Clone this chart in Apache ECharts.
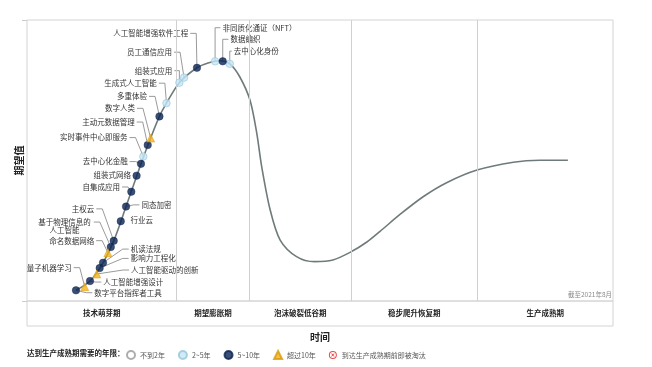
<!DOCTYPE html>
<html><head><meta charset="utf-8">
<script src="https://cdn.jsdelivr.net/npm/echarts@6/dist/echarts.min.js"></script>
<style>html,body{margin:0;padding:0;background:#fff}#c{width:652px;height:367px}</style>
</head><body><div id="c"></div>
<script>
// ---------- data ----------
const techNames = ['数字平台指挥者工具','量子机器学习','人工智能增强设计','人工智能驱动的创新','影响力工程化','机读法规','命名数据网络','基于物理信息的\n人工智能','主权云','行业云','同态加密','自集成应用','组装式网络','去中心化金融','实时事件中心即服务','主动元数据管理','数字人类','多重体验','生成式人工智能','组装式应用','员工通信应用','人工智能增强软件工程','非同质化通证（NFT）','数据编织','去中心化身份'];
const techX = [8.36, 9.85, 10.75, 11.9, 12.4, 12.97, 13.8, 14.3, 14.8, 16.0, 16.9, 17.8, 18.7, 19.45, 19.85, 20.6, 21.1, 22.6, 23.8, 26.0, 26.8, 29.0, 32.1, 33.4, 34.6];
const techY = [3.8, 5.1, 7.1, 9.6, 11.7, 13.6, 17.2, 19.2, 21.4, 28.4, 33.6, 38.9, 44.6, 48.8, 51.4, 55.5, 58.0, 65.7, 70.4, 77.7, 79.5, 83.0, 85.3, 85.3, 84.4];
const techYears = ['5~10年','超过10年','5~10年','超过10年','5~10年','5~10年','超过10年','5~10年','5~10年','5~10年','5~10年','5~10年','5~10年','5~10年','2~5年','5~10年','超过10年','5~10年','2~5年','2~5年','2~5年','5~10年','2~5年','5~10年','2~5年'];
const curveX = [8.36, 10.75, 12.97, 14.8, 16.9, 19.45, 21.1, 22.6, 23.8, 26.0, 29.0, 30.9, 32.9, 34.6, 36.3, 38.05, 39.2, 40.05, 41.5, 43.2, 46.0, 49.1, 52.2, 55.3, 58.0, 60.2, 63.65, 67.6, 71.6, 76.8, 83.0, 87.5, 92.3];
const curveY = [3.8, 7.1, 13.6, 21.4, 33.6, 48.8, 58.0, 65.7, 70.4, 77.7, 83.0, 84.7, 85.5, 84.4, 79.8, 71.5, 59.8, 47.8, 32.4, 21.7, 15.8, 14.0, 14.6, 17.5, 21.0, 24.7, 30.8, 37.1, 42.1, 46.6, 49.4, 50.1, 50.1];
const phaseNames = ['技术萌芽期','期望膨胀期','泡沫破裂低谷期','稳步爬升恢复期','生产成熟期'];
const phaseBounds = [0, 25.55, 37.94, 55.29, 76.84, 100];
const yearClasses = ['不到2年','2~5年','5~10年','超过10年','到达生产成熟期前即被淘汰'];

// ---------- layout (label offsets in px from each mark: dx, dy, side, leader, [text shift]) ----------
const labelOffsets = [
  [18.3, 2.4, 'left', 1], [-13, -19, 'right', 1], [13.3, 1, 'left', 1], [34.3, -4, 'left', 1],
  [31, -9.7, 'left', 1], [27.7, -13.7, 'left', 1], [-13.7, -12, 'right', 1], [-19, -25, 'right', 1, [-27.2, 4]],
  [-19.4, -32, 'right', 1], [9.7, -0.6, 'left', 0], [15.4, -1.7, 'left', 1], [-11.3, -4.7, 'right', 1],
  [-5.7, -0.7, 'right', 0], [-13.3, -2.3, 'right', 1], [-15.8, -19, 'right', 1], [-13, -23, 'right', 1],
  [-15.7, -29.7, 'right', 1], [-12.4, -20, 'right', 1], [-9.6, -20, 'right', 1], [-7, -12, 'right', 1],
  [-12, -25.4, 'right', 1], [-8.7, -34.4, 'right', 1], [7.3, -33.6, 'left', 1], [7.7, -22, 'left', 1],
  [4, -12.7, 'left', 1]
];
const FONT = '"Noto Sans CJK SC", "Noto Sans", sans-serif';
const classStyles = {
  '不到2年': {symbol: 'circle', size: 7, itemStyle: {color: '#ffffff', borderColor: '#999', borderWidth: 1}},
  '2~5年': {symbol: 'circle', size: 7.5, itemStyle: {color: '#c6e6f5', borderColor: '#95c6dc', borderWidth: 0.8}},
  '5~10年': {symbol: 'circle', size: 7.5, itemStyle: {color: '#0a2352', borderColor: '#0a2352', borderWidth: 0.5}},
  '超过10年': {symbol: 'triangle', size: 8, itemStyle: {color: '#f4b117', borderColor: '#d99a0c', borderWidth: 0.6}},
  '到达生产成熟期前即被淘汰': {symbol: 'path://M12,1A11,11,0,1,1,11.99,1ZM12,3.8A8.2,8.2,0,1,0,12.01,3.8ZM7.2,8.6L8.6,7.2L16.8,15.4L15.4,16.8ZM15.4,7.2L16.8,8.6L8.6,16.8L7.2,15.4Z', size: 8, itemStyle: {color: '#e02020'}}
};

const chart = echarts.init(document.getElementById('c'), null, {renderer: 'canvas'});

const scatterSeries = yearClasses.map(cls => ({
  name: cls, type: 'scatter', xAxisIndex: 0, yAxisIndex: 0,
  symbol: classStyles[cls].symbol, symbolSize: classStyles[cls].size,
  itemStyle: classStyles[cls].itemStyle, z: 5, silent: true,
  data: techX.map((x, i) => techYears[i] === cls ? [x, techY[i]] : null).filter(d => d)
}));

const labelSeries = {
  type: 'custom', xAxisIndex: 0, yAxisIndex: 0, z: 4, silent: true,
  data: techX.map((x, i) => [x, techY[i], i]),
  encode: {x: 0, y: 1},
  renderItem: function (params, api) {
    const i = api.value(2);
    const p = api.coord([api.value(0), api.value(1)]);
    const o = labelOffsets[i];
    const ax = p[0] + o[0], ay = p[1] + o[1];
    let tx = ax, ty = ay, align = o[2];
    if (o[4]) { tx = ax + o[4][0]; ty = ay + o[4][1]; align = 'center'; }
    const children = [{
      type: 'text',
      style: {text: techNames[i], x: tx, y: ty, align: align, verticalAlign: 'middle',
        fontSize: 7.5, fontFamily: FONT, fill: '#333', lineHeight: 8.5}
    }];
    if (o[3]) {
      const sx = o[2] === 'left' ? ax - 2 : ax + 2;
      const dir = p[0] >= sx ? 1 : -1;
      const hx = sx + dir * Math.min(6, Math.abs(p[0] - sx));
      children.push({
        type: 'polyline',
        shape: {points: [[sx, ay], [hx, ay], [p[0], p[1]]]},
        style: {stroke: '#808080', lineWidth: 0.8, fill: null}
      });
    }
    return {type: 'group', children: children};
  }
};

const curveSeries = {
  type: 'line', xAxisIndex: 0, yAxisIndex: 0, z: 3, silent: true,
  smooth: 0.3, showSymbol: false, symbol: 'none',
  lineStyle: {color: '#6f7b7b', width: 1.6},
  data: curveX.map((x, i) => [x, curveY[i]]),
  markLine: {
    silent: true, symbol: ['none', 'none'], label: {show: false},
    lineStyle: {color: '#d0d0d0', width: 1, type: 'solid'},
    data: phaseBounds.slice(1, -1).map(v => ({xAxis: v}))
  }
};

const bandCenters = phaseNames.map((n, k) => (phaseBounds[k] + phaseBounds[k + 1]) / 2);

chart.setOption({
  animation: false,
  textStyle: {fontFamily: FONT},
  title: [
    {text: '达到生产成熟期需要的年限：', left: 27, top: 349.5, padding: 0,
      textStyle: {fontSize: 7.5, fontWeight: 'bold', color: '#222', fontFamily: FONT}},
    {text: '截至2021年8月', right: 40, top: 291, padding: 0,
      textStyle: {fontSize: 6.5, fontWeight: 'normal', color: '#8a8a8a', fontFamily: FONT}}
  ],
  legend: {
    left: 126, top: 350, padding: 0, itemWidth: 8, itemHeight: 8, itemGap: 13,
    textStyle: {fontSize: 7, color: '#555', fontFamily: FONT},
    data: yearClasses.map(n => ({name: n, icon: classStyles[n].symbol}))
  },
  grid: [
    {left: 27, right: 39, top: 20, bottom: 66, show: true, borderColor: '#d4d4d4', borderWidth: 1},
    {left: 27, right: 39, top: 301, height: 25, show: true, borderColor: '#d4d4d4', borderWidth: 1}
  ],
  xAxis: [
    {type: 'value', gridIndex: 0, min: 0, max: 100, show: false},
    {type: 'value', gridIndex: 1, min: 0, max: 100,
      axisLine: {show: false}, axisTick: {show: false}, splitLine: {show: false},
      axisLabel: {customValues: bandCenters, inside: true, margin: 12.5, verticalAlign: 'middle',
        fontSize: 7.5, fontWeight: 'bold', color: '#222', fontFamily: FONT,
        formatter: function (v) { const k = bandCenters.findIndex(c => Math.abs(c - v) < 0.01); return k >= 0 ? phaseNames[k] : ''; }},
      name: '时间', nameLocation: 'middle', nameGap: 6,
      nameTextStyle: {fontSize: 10, fontWeight: 'bold', color: '#222', fontFamily: FONT}}
  ],
  yAxis: [
    {type: 'value', gridIndex: 0, min: 0, max: 100, interval: 100,
      axisLine: {show: false}, splitLine: {show: false}, axisLabel: {show: false},
      axisTick: {show: true, length: 5, lineStyle: {color: '#cccccc'}},
      name: '期望值', nameLocation: 'middle', nameGap: 3,
      nameTextStyle: {fontSize: 10, fontWeight: 'bold', color: '#222', fontFamily: FONT}},
    {type: 'value', gridIndex: 1, show: false}
  ],
  series: [curveSeries, labelSeries].concat(scatterSeries)
});
</script></body></html>
